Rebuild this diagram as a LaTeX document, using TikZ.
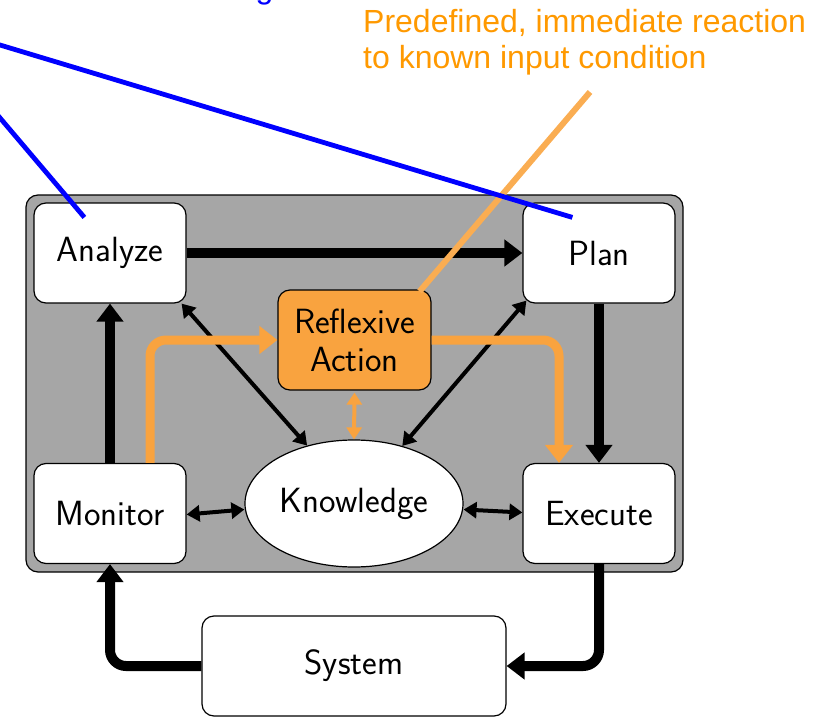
\documentclass[tikz,border=0pt]{standalone}
\usepackage{fontspec}
\newfontfamily\notefont{Liberation Sans}
\usetikzlibrary{arrows.meta,shapes.geometric}
\definecolor{panelgray}{HTML}{A6A6A6}
\definecolor{reflexorange}{HTML}{F9A33F}
\definecolor{noteorange}{HTML}{FF9900}
\definecolor{calloutorange}{HTML}{FAAD52}
\definecolor{noteblue}{HTML}{0000FF}
\tikzset{
  stage/.style={draw=black, line width=1.2pt, fill=white, rounded corners=12pt,
    minimum width=152pt, minimum height=100pt, inner sep=0pt,
    font=\sffamily\fontsize{35}{38}\selectfont},
  flow/.style={draw=black, line width=10pt, rounded corners=16pt,
    -{Triangle[width=26pt,length=18pt]}},
  reflexflow/.style={draw=reflexorange, line width=9pt, rounded corners=16pt,
    -{Triangle[width=27pt,length=18pt]}},
  link/.style={draw=black, line width=4pt,
    {Triangle[width=16pt,length=13pt]}-{Triangle[width=16pt,length=13pt]}},
  reflexlink/.style={draw=reflexorange, line width=4pt,
    {Triangle[width=15pt,length=12pt]}-{Triangle[width=15pt,length=12pt]}},
  callout/.style={line width=6pt, draw=calloutorange},
  pointer/.style={line width=4.8pt, draw=noteblue},
  notetext/.style={text=noteorange, font=\notefont\fontsize{32}{36}\selectfont,
    align=left, inner sep=0pt},
}
\begin{document}
\begin{tikzpicture}[x=1pt,y=-1pt]
\useasboundingbox (0,0) rectangle (828,717);
\clip (0,0) rectangle (828,717);

% gray panel holding the MAPE-K loop
\node[draw=black, line width=1.2pt, fill=panelgray, rounded corners=12pt,
  minimum width=657pt, minimum height=377pt, inner sep=0pt] (panel) at (354.5,383.5) {};

% the loop stages
\node[stage] (analyze) at (110,253) {Analyze};
\node[stage] (plan)    at (599,253) {Plan};
\node[stage] (monitor) at (110,513.5) {Monitor};
\node[stage] (execute) at (599,513.5) {Execute};
\node[stage, fill=reflexorange, minimum width=153pt, align=center] (reflex) at (354.5,340) {Reflexive\\Action};
\node[draw=black, line width=1.2pt, fill=white, ellipse, minimum width=218pt, minimum height=127pt,
  inner sep=0pt, font=\sffamily\fontsize{35}{38}\selectfont] (knowledge) at (354,503.5) {\raisebox{5pt}{Knowledge}};
\node[stage, minimum width=304pt] (system) at (354,666) {System};

% main control loop
\draw[flow] (analyze.east) -- (plan.west);
\draw[flow] (plan.south) -- (execute.north);
\draw[flow] (monitor.north) -- (analyze.south);
\draw[flow] (execute.south) |- (system.east);
\draw[flow] (system.west) -| (monitor.south);

% knowledge exchange
\draw[link] ([yshift=-1pt]monitor.east) -- ([yshift=-6pt]knowledge.west);
\draw[link] ([yshift=-6pt]knowledge.east) -- ([yshift=1pt]execute.west);
\draw[link] ([xshift=-5pt]analyze.south east) -- (knowledge.129.5);
\draw[link] ([xshift=4pt,yshift=3pt]plan.south west) -- (knowledge.50);
\draw[reflexlink] ([yshift=-2pt]reflex.south) -- (knowledge.north);

% reflexive shortcut
\draw[reflexflow] ([xshift=40pt]monitor.north) |- (reflex.west);
\draw[reflexflow] (reflex.east) -| ([xshift=-40pt]execute.north);

% annotations
\node[notetext, anchor=north west] (note) at (363,9)
  {Predefined, immediate reaction\\to known input condition};
\coordinate (calloutstart) at (590,92);
\draw[callout] (calloutstart) -- ([xshift=-12pt,yshift=-2pt]reflex.north east);

\node[text=noteblue, font=\notefont\fontsize{32}{36}\selectfont, anchor=base, inner sep=0pt]
  (bluenote) at (264.5,-1.5) {g};
\coordinate (pointerA) at (-10,42);
\coordinate (pointerB) at (-5,112);
\draw[pointer] (pointerA) -- ([xshift=50pt,yshift=-15pt]plan.north west);
\draw[pointer] (pointerB) -- ([xshift=51pt,yshift=-15pt]analyze.north west);
\end{tikzpicture}
\end{document}
